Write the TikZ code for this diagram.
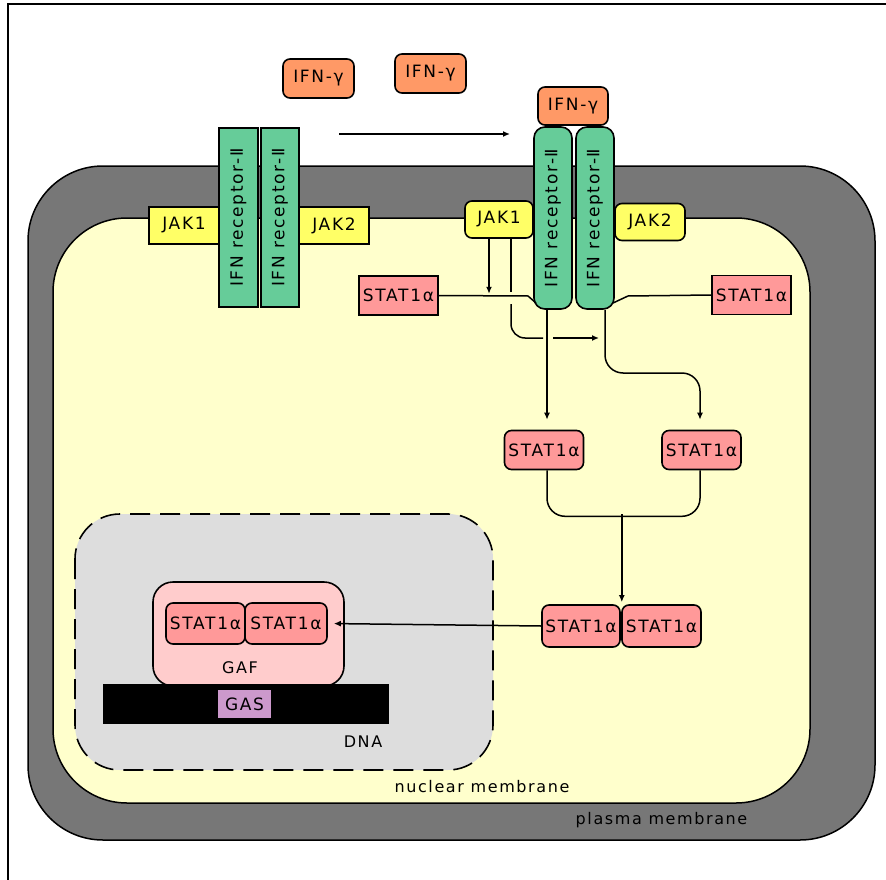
\documentclass[tikz,border=0pt]{standalone}
\usepackage{fontspec}
\usepackage{xcolor}
\usepackage{tikz}
\usetikzlibrary{arrows.meta,calc,positioning}
\newfontfamily\genevafont[LetterSpace=10]{DejaVu Sans}
\definecolor{ifnorange}{HTML}{FF9966}
\definecolor{recgreen}{HTML}{66CC99}
\definecolor{jakyellow}{HTML}{FFFF66}
\definecolor{statpink}{HTML}{FF9999}
\definecolor{gafpink}{HTML}{FFCCCC}
\definecolor{cytoyellow}{HTML}{FFFFCC}
\definecolor{membgray}{HTML}{777777}
\definecolor{nucgray}{HTML}{DDDDDD}
\definecolor{gaspurple}{HTML}{CC99CC}

\begin{document}
\begin{tikzpicture}[x=1pt, y=-1pt, >={Latex[length=7pt,width=6pt]}, line width=1.5pt,
    box/.style={draw, line width=1.6pt, inner sep=0pt, font=\genevafont\fontsize{17}{19}\selectfont},
    ifn/.style={box, fill=ifnorange, rounded corners=7pt, minimum width=71pt, minimum height=39pt},
    recsq/.style={box, fill=recgreen, minimum width=39pt, minimum height=179pt},
    recrd/.style={box, fill=recgreen, rounded corners=11pt, minimum width=38pt, minimum height=182pt},
    jaksq/.style={box, fill=jakyellow, minimum width=70pt, minimum height=37pt},
    jakrd/.style={box, fill=jakyellow, rounded corners=7pt, minimum width=69pt, minimum height=37pt},
    statsq/.style={box, fill=statpink, minimum width=79pt, minimum height=39pt},
    statrd/.style={box, fill=statpink, rounded corners=7pt, minimum width=79pt, minimum height=39pt},
    lbl/.style={inner sep=0pt, font=\genevafont\fontsize{16}{18}\selectfont}]
    \useasboundingbox (0,0) rectangle (886,880);
    % frame
    \draw[line width=1.5pt] (8,890) -- (8,4) -- (890,4);

    % membranes
    \filldraw[fill=membgray, line width=1.5pt, rounded corners=75pt] (28,166) rectangle (875,840);
    \filldraw[fill=cytoyellow, line width=1.5pt, rounded corners=74pt] (53,218) rectangle (810,803);
    \filldraw[fill=nucgray, line width=1.6pt, dash pattern=on 20pt off 10pt, rounded corners=45pt] (75,514) rectangle (493,770);
    \node[lbl] (nucl) at (482,787) {nuclear membrane};
    \node[lbl] (plasl) at (661.5,820) {plasma membrane};

    % free ligand
    \node[ifn] (ifnA) at (318.5,78.5) {IFN-γ};
    \node[ifn] (ifnB) at (430.5,73.5) {IFN-γ};
    \coordinate (flowS) at (339,134);
    \coordinate (flowE) at (510,134);
    \draw[->] (flowS) -- (flowE);

    % unbound receptor
    \node[jaksq] (jakA1) at (184,225.5) {JAK1};
    \node[jaksq] (jakA2) at (334,225.5) {JAK2};
    \node[recsq] (recA1) at (238.5,217.5) {\rotatebox{90}{IFN receptor-Ⅱ}};
    \node[recsq, minimum width=38pt] (recA2) at (280,217.5) {\rotatebox{90}{IFN receptor-Ⅱ}};

    % bound receptor
    \node[ifn, minimum width=70pt, minimum height=38pt] (ifnC) at (573,106) {IFN-γ};
    \node[recrd] (recB1) at (553,218) {\rotatebox{90}{IFN receptor-Ⅱ}};
    \node[recrd] (recB2) at (595,218) {\rotatebox{90}{IFN receptor-Ⅱ}};
    \node[jakrd, minimum width=68pt] (jakB1) at (499,219.5) {JAK1};
    \node[jakrd, minimum width=70pt] (jakB2) at (650,222) {JAK2};

    % STAT1 activation
    \node[statsq] (statL) at (398.5,295.5) {STAT1α};
    \node[statsq] (statR) at (751.5,295) {STAT1α};
    \node[statrd] (statM1) at (544,450) {STAT1α};
    \node[statrd] (statM2) at (701.5,450) {STAT1α};
    \draw (statL.east) -- (528,296) -- (536,303);
    \draw (613,303) -- (628,296) -- (statR.west);
    \draw[->] ([xshift=-10pt]jakB1.south) -- ++(0,55);
    \draw ([xshift=12pt]jakB1.south) -- ++(0,53);
    \draw[rounded corners=14pt] (511,304) |- (543,338);
    \draw[->] (553,338) -- (599,338);
    \draw[->, shorten >=10pt] ([xshift=-6pt]recB1.south) -- ([xshift=3pt]statM1.north);
    \draw[->, rounded corners=18pt, shorten >=10pt] ([xshift=10pt]recB2.south) -- (605,373) -- (700,373) -- ([xshift=-1.5pt]statM2.north);

    % dimerisation
    \node[statrd, minimum width=78pt, minimum height=42pt] (dimer1) at (581,626) {STAT1α};
    \node[statrd, minimum height=42pt] (dimer2) at (661.5,626) {STAT1α};
    \coordinate (join) at ($(dimer1.north east)+(1,-90)$);
    \draw[rounded corners=18pt] ([xshift=3pt]statM1.south) -- ++(0,46) -| ([xshift=-1.5pt]statM2.south);
    \draw[->, shorten >=2pt] (join) -- (join |- dimer1.north);

    % nucleus
    \node[box, fill=gafpink, rounded corners=20pt, minimum width=191pt, minimum height=104pt] (gaf) at (248.5,634) {};
    \node[lbl] (gafl) at (240,668) {GAF};
    \node[statrd, minimum height=41pt] (gaf1) at (205.5,623.5) {STAT1α};
    \node[statrd, minimum width=82pt, minimum height=41pt] (gaf2) at (286,623.5) {STAT1α};
    \node[fill=black, inner sep=0pt, minimum width=286pt, minimum height=40pt] (dna) at (246,704) {};
    \node[box, draw=none, fill=gaspurple, minimum width=53pt, minimum height=28pt] (gas) at (244.5,704) {GAS};
    \node[lbl] (dnal) at (363,742) {DNA};
    \draw[->, shorten >=6pt] (dimer1.west) -- (gaf2.east);
\end{tikzpicture}
\end{document}
